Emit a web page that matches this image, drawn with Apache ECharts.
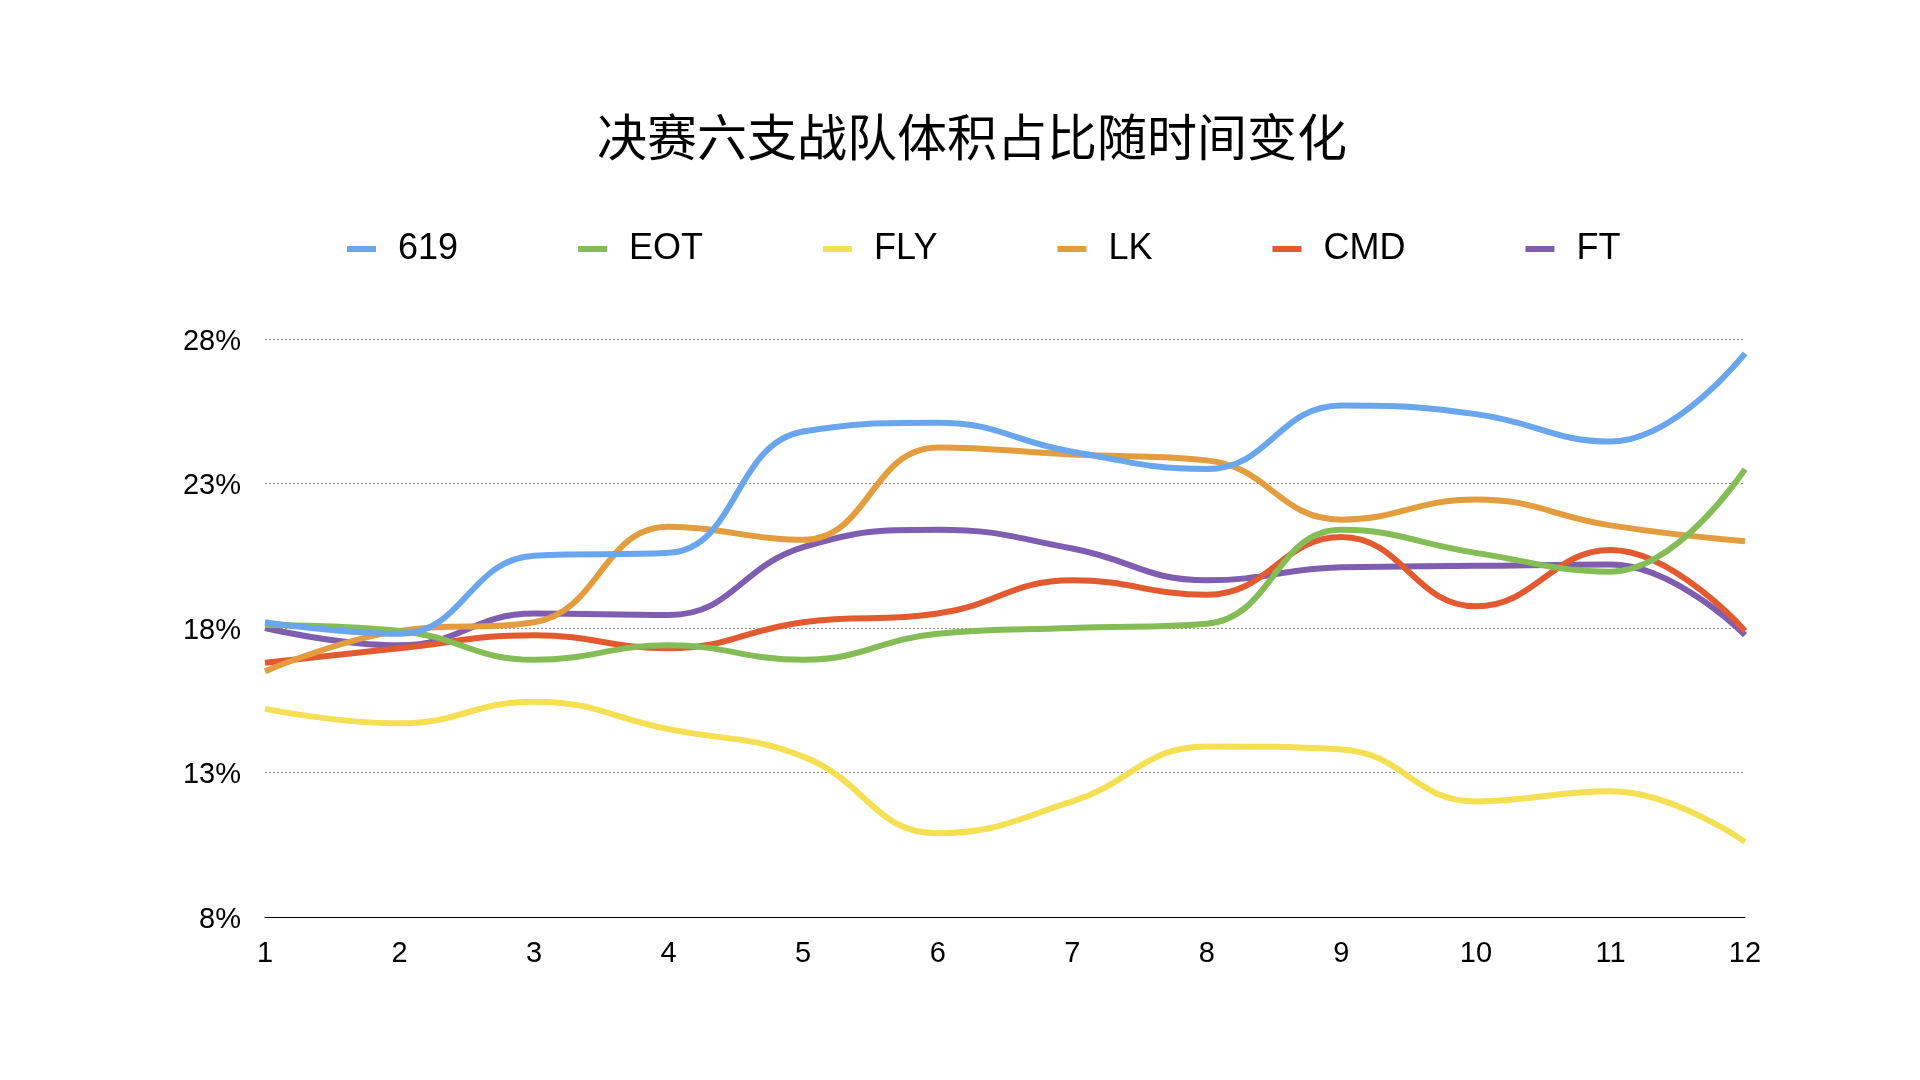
<!DOCTYPE html>
<html>
<head>
<meta charset="utf-8">
<script src="https://cdn.jsdelivr.net/npm/echarts@6/dist/echarts.min.js"></script>
<style>
html,body{margin:0;padding:0;background:#fff;}
#c{width:1920px;height:1080px;}
</style>
</head>
<body>
<div id="c"></div>
<script>
var categories = ['1','2','3','4','5','6','7','8','9','10','11','12'];
var yTicks = [8, 13, 18, 23, 28];
var seriesNames = ['619','EOT','FLY','LK','CMD','FT'];
var s619 = [18.2, 17.8, 20.5, 20.6, 24.8, 25.1, 24.1, 23.5, 25.7, 25.4, 24.45, 27.5];
var sEOT = [18.1, 17.9, 16.9, 17.4, 16.9, 17.8, 18.0, 18.15, 21.4, 20.6, 19.95, 23.5];
var sFLY = [15.2, 14.7, 15.45, 14.5, 13.55, 10.9, 12.0, 13.9, 13.8, 12.0, 12.35, 10.6];
var sLK  = [16.5, 17.9, 18.2, 21.5, 21.05, 24.25, 24.0, 23.8, 21.75, 22.45, 21.55, 21.0];
var sCMD = [16.8, 17.3, 17.75, 17.3, 18.2, 18.5, 19.65, 19.15, 21.15, 18.75, 20.7, 17.9];
var sFT  = [18.0, 17.4, 18.5, 18.45, 20.8, 21.4, 20.75, 19.65, 20.1, 20.15, 20.2, 17.75];
var colors = ['#6aa6ee', '#84bc55', '#f4e052', '#e39c3e', '#e35a31', '#7f5db0'];

var dataList = [s619, sEOT, sFLY, sLK, sCMD, sFT];
var font = "'Liberation Sans', Helvetica, Arial, sans-serif";

var chart = echarts.init(document.getElementById('c'), null, {renderer: 'canvas'});
chart.setOption({
  animation: false,
  backgroundColor: '#fff',
  color: colors,
  title: {
    text: '决赛六支战队体积占比随时间变化',
    left: 592,
    top: 107,
    textStyle: {
      fontFamily: "'Noto Sans CJK SC', sans-serif",
      fontSize: 50,
      fontWeight: 'normal',
      color: '#000'
    }
  },
  legend: {
    left: 342,
    top: 226,
    icon: 'rect',
    itemWidth: 29,
    itemHeight: 6,
    itemGap: 120,
    data: seriesNames,
    textStyle: {
      fontFamily: font,
      fontSize: 36,
      color: '#000',
      padding: [0, 0, 0, 17]
    }
  },
  grid: {
    left: 265,
    right: 175,
    top: 339,
    bottom: 163,
    containLabel: false,
    outerBoundsMode: 'none'
  },
  xAxis: {
    type: 'category',
    data: categories,
    boundaryGap: false,
    axisLine: {lineStyle: {color: '#000', width: 1.2}},
    axisTick: {show: false},
    axisLabel: {
      margin: 22,
      fontFamily: font,
      fontSize: 29,
      color: '#000'
    },
    splitLine: {show: false}
  },
  yAxis: {
    type: 'value',
    min: yTicks[0],
    max: yTicks[yTicks.length - 1],
    interval: yTicks[1] - yTicks[0],
    axisLine: {show: false},
    axisTick: {show: false},
    axisLabel: {
      margin: 24,
      color: '#000',
      formatter: function (v) { return '{a|' + v + '%}'; },
      rich: {
        a: {
          fontFamily: font,
          fontSize: 29,
          color: '#000',
          padding: [5, 0, 0, 0]
        }
      }
    },
    splitLine: {
      show: true,
      lineStyle: {color: '#8a8a8a', width: 1, type: [2, 2]}
    }
  },
  series: seriesNames.map(function (n, i) {
    return {
      name: n,
      type: 'line',
      data: dataList[i],
      smooth: 0.45,
      symbol: 'none',
      lineStyle: {width: 6, color: colors[i]},
      itemStyle: {color: colors[i]},
      z: 10 - i
    };
  })
});
</script>
</body>
</html>
